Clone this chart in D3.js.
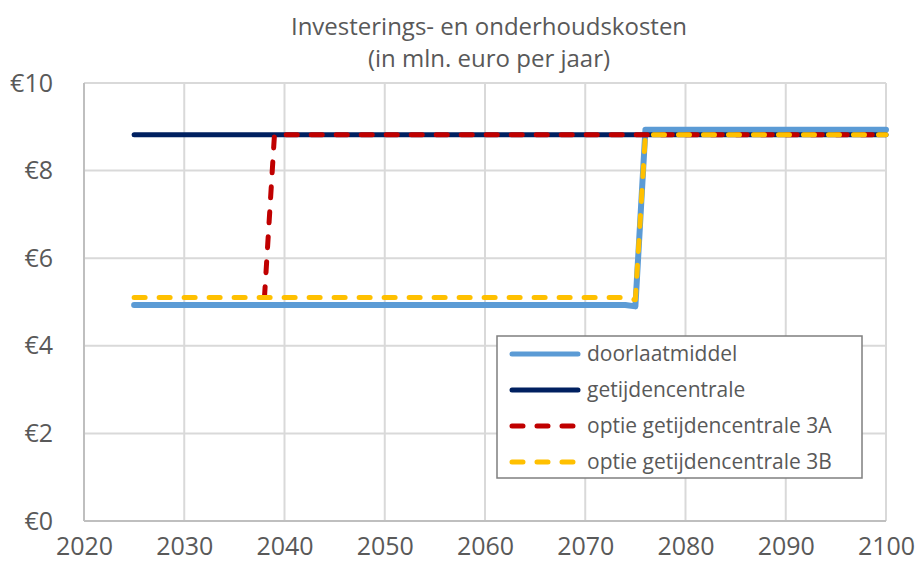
<!DOCTYPE html>
<html lang="nl">
<head>
<meta charset="UTF-8">
<title>Investerings- en onderhoudskosten</title>
<style>
    body { margin: 0; background: #fff; }
    text { font-family: "Century Gothic", "Open Sans", sans-serif; fill: #595959; }
    .grid line { stroke: #d9d9d9; stroke-width: 2; }
    .tick text { font-size: 25px; }
    .legend-label { font-size: 21px; }
    .title { font-size: 24px; }
</style>
</head>
<body>
<svg width="918" height="563"></svg>
<script src="https://d3js.org/d3.v7.min.js"></script>
<script>
    // Data
    const years = d3.range(2025, 2101);
    const doorlaatmiddel = years.map(y => y <= 2074 ? 4.93 : (y === 2075 ? 4.90 : 8.93));
    const getijdencentrale = years.map(y => 8.82);
    const yearsA = d3.range(2038, 2101);
    const optie3A = yearsA.map(y => y <= 2038 ? 5.10 : 8.82);
    const optie3B = years.map(y => y <= 2074 ? 5.10 : (y === 2075 ? 5.05 : 8.82));

    const xTicks = [2020, 2030, 2040, 2050, 2060, 2070, 2080, 2090, 2100];
    const yTicks = [0, 2, 4, 6, 8, 10];

    const seriesNames = ['doorlaatmiddel', 'getijdencentrale',
        'optie getijdencentrale 3A', 'optie getijdencentrale 3B'];

    const svg = d3.select('svg');

    const x = d3.scaleLinear().domain([2020, 2100]).range([84, 886]);
    const y = d3.scaleLinear().domain([0, 10]).range([521, 83]);

    // gridlines
    const grid = svg.append('g').attr('class', 'grid');
    grid.selectAll('.v').data(xTicks).enter().append('line')
        .attr('x1', d => x(d)).attr('x2', d => x(d))
        .attr('y1', y(10)).attr('y2', y(0));
    grid.selectAll('.h').data(yTicks).enter().append('line')
        .attr('x1', x(2020)).attr('x2', x(2100))
        .attr('y1', d => y(d)).attr('y2', d => y(d));

    // axis lines
    svg.append('line').attr('x1', x(2020)).attr('x2', x(2020))
        .attr('y1', y(10)).attr('y2', y(0))
        .attr('stroke', '#bfbfbf').attr('stroke-width', 2);
    svg.append('line').attr('x1', x(2020)).attr('x2', x(2100))
        .attr('y1', y(0)).attr('y2', y(0))
        .attr('stroke', '#bfbfbf').attr('stroke-width', 2);

    // axes (labels only)
    const xAxis = d3.axisBottom(x).tickValues(xTicks).tickFormat(d3.format('d'))
        .tickSize(0).tickPadding(16);
    const xAxisG = svg.append('g').attr('transform', 'translate(0,' + y(0) + ')').call(xAxis);
    xAxisG.select('.domain').remove();

    const yAxis = d3.axisLeft(y).tickValues(yTicks).tickFormat(d => '€' + d)
        .tickSize(0).tickPadding(31);
    const yAxisG = svg.append('g').attr('transform', 'translate(' + x(2020) + ',0)').call(yAxis);
    yAxisG.select('.domain').remove();
    svg.selectAll('.tick text').attr('fill', '#595959');

    const line = d3.line().x(d => x(d[0])).y(d => y(d[1]));

    const series = [
        { name: seriesNames[0], data: d3.zip(years, doorlaatmiddel), color: '#5b9bd5', width: 6, dash: null },
        { name: seriesNames[1], data: d3.zip(years, getijdencentrale), color: '#002060', width: 5, dash: null },
        { name: seriesNames[2], data: d3.zip(yearsA, optie3A), color: '#c00000', width: 5, dash: '11,14' },
        { name: seriesNames[3], data: d3.zip(years, optie3B), color: '#ffc000', width: 5, dash: '11,14' }
    ];

    svg.selectAll('.series').data(series).enter().append('path')
        .attr('class', 'series')
        .attr('d', d => line(d.data))
        .attr('fill', 'none')
        .attr('stroke', d => d.color)
        .attr('stroke-width', d => d.width)
        .attr('stroke-linecap', 'round')
        .attr('stroke-linejoin', 'round')
        .attr('stroke-dasharray', d => d.dash);

    // legend
    const legend = svg.append('g');
    legend.append('rect')
        .attr('x', 497).attr('y', 336).attr('width', 365).attr('height', 142)
        .attr('fill', '#fff').attr('stroke', '#7f7f7f').attr('stroke-width', 1.5);
    const items = legend.selectAll('.item').data(series).enter().append('g')
        .attr('transform', (d, i) => 'translate(0,' + (354 + i * 36) + ')');
    items.append('line')
        .attr('x1', 512).attr('x2', 578).attr('y1', 0).attr('y2', 0)
        .attr('stroke', d => d.color).attr('stroke-width', 5)
        .attr('stroke-linecap', 'round')
        .attr('stroke-dasharray', d => d.dash);
    items.append('text')
        .attr('class', 'legend-label')
        .attr('x', 587).attr('y', 0).attr('dy', '0.35em')
        .text(d => d.name);

    // title
    svg.append('text').attr('class', 'title').attr('x', 489).attr('y', 35)
        .attr('text-anchor', 'middle').text('Investerings- en onderhoudskosten');
    svg.append('text').attr('class', 'title').attr('x', 489).attr('y', 67)
        .attr('text-anchor', 'middle').text('(in mln. euro per jaar)');
</script>
</body>
</html>
